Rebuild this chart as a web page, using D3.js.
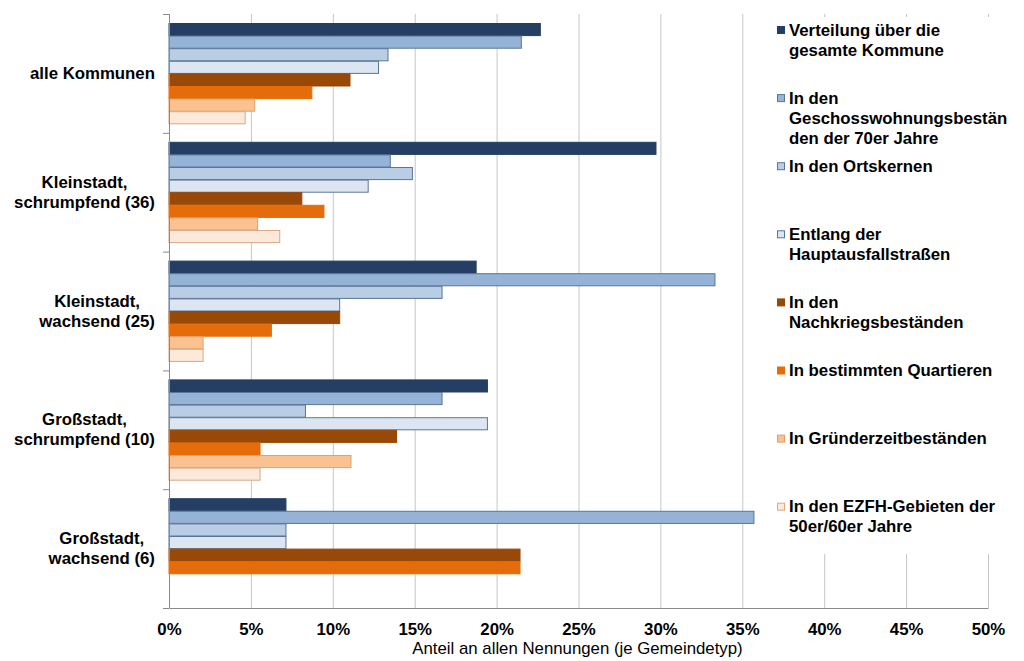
<!DOCTYPE html>
<html>
<head>
<meta charset="utf-8">
<script src="https://cdn.jsdelivr.net/npm/d3@7"></script>
<style>
  html, body { margin: 0; padding: 0; background: #fff; }
  svg { display: block; font-family: "Liberation Sans", Arial, sans-serif; }
</style>
</head>
<body>
<svg id="chart" width="1024" height="661"></svg>
<script>
// ---- data ----
const categories = [
  "alle Kommunen",
  "Kleinstadt,\nschrumpfend (36)",
  "Kleinstadt,\nwachsend (25)",
  "Großstadt,\nschrumpfend (10)",
  "Großstadt,\nwachsend (6)"
];
const seriesNames = [
  "Verteilung über die\ngesamte Kommune",
  "In den\nGeschosswohnungsbestän\nden der 70er Jahre",
  "In den Ortskernen",
  "Entlang der\nHauptausfallstraßen",
  "In den\nNachkriegsbeständen",
  "In bestimmten Quartieren",
  "In Gründerzeitbeständen",
  "In den EZFH-Gebieten der\n50er/60er Jahre"
];
// values in % per category, one array per series
const verteilung      = [22.67, 29.73, 18.75, 19.44, 7.14];
const geschosswohnung = [21.51, 13.51, 33.33, 16.67, 35.71];
const ortskerne       = [13.37, 14.86, 16.67, 8.33, 7.14];
const hauptausfall    = [12.79, 12.16, 10.42, 19.44, 7.14];
const nachkrieg       = [11.05, 8.11, 10.42, 13.89, 21.43];
const quartiere       = [8.72, 9.46, 6.25, 5.56, 21.43];
const gruenderzeit    = [5.23, 5.41, 2.08, 11.11, 0];
const ezfh            = [4.65, 6.76, 2.08, 5.56, 0];
const seriesValues = [verteilung, geschosswohnung, ortskerne, hauptausfall,
                      nachkrieg, quartiere, gruenderzeit, ezfh];
const xTicks = [0, 5, 10, 15, 20, 25, 30, 35, 40, 45, 50];
const xTitle = "Anteil an allen Nennungen (je Gemeindetyp)";

// ---- styles ----
const fills   = ["#243f63", "#95b3d7", "#b9cde5", "#dce6f2", "#984807", "#e46c0a", "#fac191", "#fde9d9"];
const strokes = ["#243f63", "#5b7596", "#5b7596", "#5b7596", "#984807", "#e46c0a", "#e0a070", "#d8a888"];
const SX = 1.05; // horizontal stretch of the text in the reference
const FS = 16;

// ---- layout ----
const svg = d3.select("#chart");
const pLeft = 169, pRight = 988, pTop = 14, pBottom = 608;

const x = d3.scaleLinear().domain([0, 50]).range([pLeft, pRight]);
const y0 = d3.scaleBand().domain(d3.range(categories.length)).range([pTop, pBottom]).padding(0);
const y1 = d3.scaleBand().domain(d3.range(seriesNames.length)).range([9, y0.bandwidth() - 9]).padding(0);

// gridlines
svg.append("g").selectAll("line").data(xTicks.slice(1)).join("line")
  .attr("x1", d => x(d) + 0.5).attr("x2", d => x(d) + 0.5)
  .attr("y1", pTop).attr("y2", pBottom)
  .attr("stroke", "#c6c6c6").attr("stroke-width", 1);

// legend background (covers gridlines only)
svg.append("rect").attr("x", 762).attr("y", 17).attr("width", 262).attr("height", 537).attr("fill", "#fff");

// bars
const groups = svg.append("g").selectAll("g").data(categories).join("g")
  .attr("transform", (d, i) => `translate(0,${y0(i)})`);
groups.selectAll("rect")
  .data((d, i) => seriesValues.map((vals, s) => ({ s, v: vals[i] })).filter(e => e.v > 0))
  .join("rect")
  .attr("x", x(0))
  .attr("y", d => y1(d.s) + 0.5)
  .attr("width", d => x(d.v) - x(0))
  .attr("height", y1.bandwidth() - 0.5)
  .attr("fill", d => fills[d.s])
  .attr("stroke", d => strokes[d.s])
  .attr("stroke-width", 1);

// x axis
const xAxis = d3.axisBottom(x).tickValues(xTicks).tickFormat(d => d + "%").tickSize(0).tickPadding(16);
const gx = svg.append("g").attr("transform", `translate(0,${pBottom})`).call(xAxis);
gx.select(".domain").attr("stroke", "#8a8a8a");
gx.selectAll("text")
  .attr("font-family", "Liberation Sans, Arial, sans-serif")
  .attr("font-size", FS).attr("font-weight", "bold").attr("fill", "#000")
  .attr("transform", `scale(${SX},1)`);

// y axis line with ticks at group boundaries
svg.append("line").attr("x1", pLeft + 0.5).attr("x2", pLeft + 0.5).attr("y1", pTop).attr("y2", pBottom)
  .attr("stroke", "#8a8a8a");
svg.append("g").selectAll("line").data(d3.range(categories.length + 1)).join("line")
  .attr("x1", pLeft - 6).attr("x2", pLeft)
  .attr("y1", i => pTop + i * y0.step() + 0.5).attr("y2", i => pTop + i * y0.step() + 0.5)
  .attr("stroke", "#8a8a8a");

// category labels
const catG = svg.append("g");
categories.forEach((c, i) => {
  const lines = c.split("\n");
  const cy = y0(i) + y0.bandwidth() / 2;
  const g = catG.append("g");
  const texts = lines.map((ln, j) => g.append("text")
    .attr("font-size", FS).attr("font-weight", "bold").attr("fill", "#000")
    .attr("text-anchor", "middle")
    .attr("dy", "0.35em")
    .attr("y", cy + (j - (lines.length - 1) / 2) * 20)
    .text(ln));
  const maxW = d3.max(texts, t => t.node().getComputedTextLength()) * SX;
  const cx = 155 - maxW / 2;
  texts.forEach(t => t.attr("x", 0).attr("transform", `translate(${cx},0) scale(${SX},1)`));
});

// axis title
svg.append("text")
  .attr("text-anchor", "middle").attr("font-size", FS).attr("fill", "#000")
  .attr("transform", `translate(${(pLeft + pRight) / 2 - 1},${654}) scale(${SX},1)`)
  .text(xTitle);

// legend
const leg = svg.append("g");
const legStep = 68.1, legTop = 30;
seriesNames.forEach((name, s) => {
  const cy = legTop + s * legStep;
  leg.append("rect").attr("x", 777.5).attr("y", cy - 3.5).attr("width", 7).attr("height", 7)
    .attr("fill", fills[s]).attr("stroke", strokes[s]);
  name.split("\n").forEach((ln, j) => {
    leg.append("text")
      .attr("font-size", FS).attr("font-weight", "bold").attr("fill", "#000")
      .attr("dy", "0.35em")
      .attr("transform", `translate(789,${cy + j * 20}) scale(${SX},1)`)
      .text(ln);
  });
});
</script>
</body>
</html>
